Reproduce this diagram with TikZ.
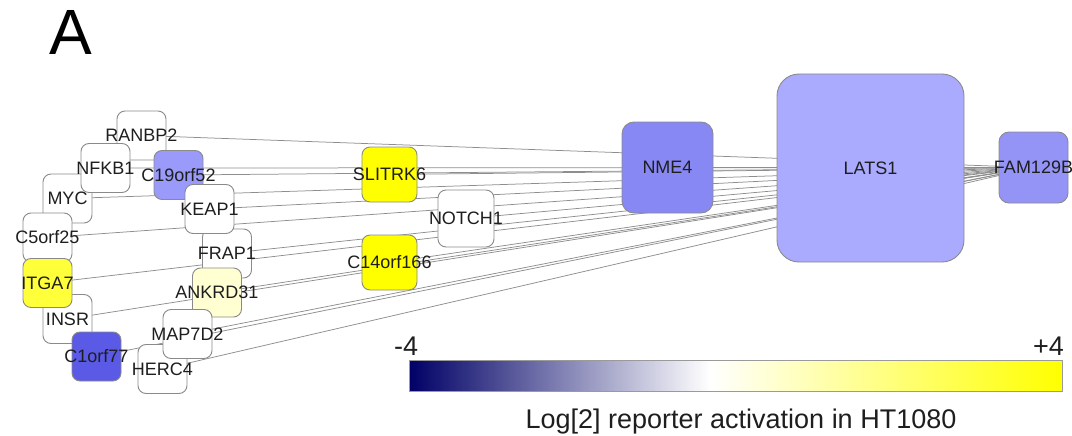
\documentclass[tikz,border=0pt]{standalone}
\usepackage{fontspec}
\setmainfont{Liberation Sans}
\usetikzlibrary{backgrounds}

% palette
\definecolor{nodeedge}{HTML}{8A8A8A}
\definecolor{linkgray}{HTML}{8E8E8E}
\definecolor{labelink}{HTML}{1E1E1E}
\definecolor{cbnavy}{HTML}{000066}
\definecolor{cbyellow}{HTML}{FFFF00}
\definecolor{cbframe}{HTML}{9A9A9A}
\definecolor{blueA}{HTML}{9A9AFA}   % C19orf52
\definecolor{blueB}{HTML}{5A5AE6}   % C1orf77
\definecolor{blueC}{HTML}{8888F5}   % NME4
\definecolor{blueD}{HTML}{AAAAFF}   % LATS1
\definecolor{blueE}{HTML}{9494F6}   % FAM129B
\definecolor{yelA}{HTML}{FFFF00}
\definecolor{yelB}{HTML}{FFFF3A}
\definecolor{yelC}{HTML}{FFFFD2}

% colour scale: navy -> white -> yellow
\pgfdeclarehorizontalshading{cbar}{100bp}{color(0bp)=(cbnavy); color(25bp)=(cbnavy); color(48bp)=(white); color(75bp)=(cbyellow); color(100bp)=(cbyellow)}

\tikzset{
  gene/.style={draw=nodeedge, line width=0.9pt, rounded corners=8pt,
    minimum width=49pt, minimum height=49pt, inner sep=0pt, fill=white},
  midgene/.style={gene, minimum width=55pt, minimum height=55pt},
  glabel/.style={font=\fontsize{18}{20}\selectfont, inner sep=0pt, text=labelink},
  link/.style={draw=linkgray, line width=0.75pt},
  scaletext/.style={font=\fontsize{27}{30}\selectfont, inner sep=0pt, text=labelink},
}

\begin{document}
\begin{tikzpicture}[x=1pt, y=-1pt]
\useasboundingbox (0,0) rectangle (1072,436);

% panel letter
\node[font=\fontsize{64}{70}\selectfont, inner sep=0pt, anchor=base] (panel) at (71,55) {A};

% gene boxes (later ones sit on top)
\node[gene] (ranbp2) at (141.5,135.5) {};
\node[gene] (myc) at (67.5,198.5) {};
\node[gene] (nfkb1) at (105.5,168) {};
\node[gene, fill=blueA] (c19orf52) at (178.5,175) {};
\node[gene] (frap1) at (227,253.5) {};
\node[gene] (keap1) at (209.5,209) {};
\node[gene, fill=yelC] (ankrd31) at (217,292.5) {};
\node[gene] (c5orf25) at (47.5,237.5) {};
\node[gene] (insr) at (67.5,319) {};
\node[gene, fill=yelB] (itga7) at (47.5,283) {};
\node[gene, fill=blueB] (c1orf77) at (96.5,356.5) {};
\node[gene] (herc4) at (162.5,369) {};
\node[gene] (map7d2) at (187.5,334) {};
\node[midgene, fill=yelA] (slitrk6) at (389.5,174.5) {};
\node[midgene, minimum width=56pt, minimum height=57pt] (notch1) at (466,218.5) {};
\node[midgene, fill=yelA] (c14orf166) at (389.5,262.5) {};
\node[gene, fill=blueC, minimum width=91pt, minimum height=91pt, rounded corners=12pt] (nme4) at (667.5,167.5) {};
\node[gene, fill=blueD, minimum width=187pt, minimum height=188pt, rounded corners=22pt] (lats1) at (870.5,168) {};
\node[gene, fill=blueE, minimum width=69pt, minimum height=71pt, rounded corners=10pt] (fam) at (1033.5,167.5) {};

% gene names, set above every box
\node[glabel] (ranbp2-l) at (ranbp2) {RANBP2};
\node[glabel] (myc-l) at (myc) {MYC};
\node[glabel] (nfkb1-l) at (nfkb1) {NFKB1};
\node[glabel] (c19orf52-l) at (c19orf52) {C19orf52};
\node[glabel] (frap1-l) at (frap1) {FRAP1};
\node[glabel] (keap1-l) at (keap1) {KEAP1};
\node[glabel] (ankrd31-l) at (ankrd31) {ANKRD31};
\node[glabel] (c5orf25-l) at (c5orf25) {C5orf25};
\node[glabel] (insr-l) at (insr) {INSR};
\node[glabel] (itga7-l) at (itga7) {ITGA7};
\node[glabel] (c1orf77-l) at (c1orf77) {C1orf77};
\node[glabel] (herc4-l) at (herc4) {HERC4};
\node[glabel] (map7d2-l) at (map7d2) {MAP7D2};
\node[glabel] (slitrk6-l) at (slitrk6) {SLITRK6};
\node[glabel] (notch1-l) at (notch1) {NOTCH1};
\node[glabel] (c14orf166-l) at (c14orf166) {C14orf166};
\node[glabel] (nme4-l) at (nme4) {NME4};
\node[glabel] (lats1-l) at (lats1) {LATS1};
\node[glabel] (fam-l) at (fam) {FAM129B};

% interactions with FAM129B, drawn beneath the boxes
\begin{scope}[on background layer]
\foreach \g in {ranbp2,myc,nfkb1,c19orf52,frap1,keap1,ankrd31,c5orf25,insr,itga7,
                c1orf77,herc4,map7d2,slitrk6,notch1,c14orf166,nme4,lats1}
  \draw[link] (\g.center) -- (fam.center);
\end{scope}

% colour scale
\shadedraw[shading=cbar, draw=cbframe, line width=0.9pt] (409,360) rectangle (1062,391);
\node[scaletext, anchor=base west] (scalemin) at (394,355) {-4};
\node[scaletext, anchor=base east] (scalemax) at (1064,355) {+4};
\node[scaletext, anchor=base] (scaletitle) at (741,428) {Log[2] reporter activation in HT1080};
\end{tikzpicture}
\end{document}
